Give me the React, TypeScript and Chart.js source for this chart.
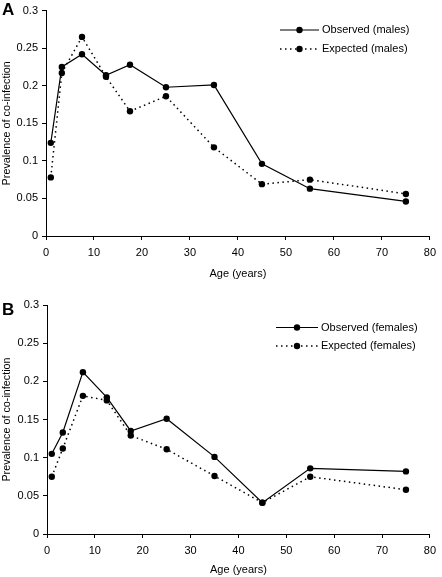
import React, { useEffect, useRef } from 'react';
import { Chart, registerables } from 'chart.js';

Chart.register(...registerables);

// Age group midpoints (years)
const ages = [1, 3.3, 7.5, 12.5, 17.5, 25, 35, 45, 55, 75];

// Panel A – males
const observedMales = [0.124, 0.225, 0.242, 0.214, 0.228, 0.198, 0.201, 0.096, 0.063, 0.046];
const expectedMales = [0.078, 0.217, 0.265, 0.212, 0.166, 0.186, 0.118, 0.069, 0.075, 0.056];

// Panel B – females
const observedFemales = [0.105, 0.133, 0.212, 0.179, 0.135, 0.151, 0.101, 0.041, 0.086, 0.082];
const expectedFemales = [0.075, 0.112, 0.181, 0.175, 0.129, 0.111, 0.076, 0.041, 0.075, 0.058];

const seriesLabelsA = ['Observed (males)', 'Expected (males)'];
const seriesLabelsB = ['Observed (females)', 'Expected (females)'];

const xMin = 0;
const xMax = 80;
const xStep = 10;
const yMin = 0;
const yMax = 0.3;
const yStep = 0.05;
const xTitle = 'Age (years)';
const yTitle = 'Prevalence of co-infection';

const FONT = '"Liberation Sans", Arial, Helvetica, sans-serif';

const lineLegend = {
  id: 'lineLegend',
  afterDraw(chart: any, _args: any, opts: any) {
    if (!opts || !opts.display) return;
    const ctx = chart.ctx as CanvasRenderingContext2D;
    chart.data.datasets.forEach((ds: any, i: number) => {
      const y = opts.y + i * opts.gap;
      ctx.save();
      ctx.strokeStyle = '#000';
      ctx.fillStyle = '#000';
      ctx.lineWidth = ds.borderWidth;
      ctx.setLineDash(ds.borderDash || []);
      ctx.beginPath();
      ctx.moveTo(opts.x, y);
      ctx.lineTo(opts.x + opts.len, y);
      ctx.stroke();
      ctx.setLineDash([]);
      ctx.beginPath();
      ctx.arc(opts.x + opts.len / 2, y, ds.pointRadius, 0, Math.PI * 2);
      ctx.fill();
      ctx.font = `11px ${FONT}`;
      ctx.textBaseline = 'middle';
      ctx.textAlign = 'left';
      ctx.fillText(ds.label, opts.x + opts.len + 3, y);
      ctx.restore();
    });
  },
};

type PanelProps = {
  width: number;
  height: number;
  observed: number[];
  expected: number[];
  labels: string[];
  area: { top: number; left: number; right: number; bottom: number };
  legend: { x: number; y: number; gap: number; len: number };
  xTitlePad: number;
};

function Panel({ width, height, observed, expected, labels, area, legend, xTitlePad }: PanelProps) {
  const ref = useRef<HTMLCanvasElement | null>(null);
  useEffect(() => {
    if (!ref.current) return;
    const chart = new Chart(ref.current, {
      type: 'line',
      data: {
        datasets: [
          {
            label: labels[0],
            data: ages.map((a, i) => ({ x: a, y: observed[i] })),
            borderColor: '#000',
            backgroundColor: '#000',
            borderWidth: 1.2,
            pointRadius: 3.2,
            pointBackgroundColor: '#000',
            pointBorderWidth: 0,
            tension: 0,
          },
          {
            label: labels[1],
            data: ages.map((a, i) => ({ x: a, y: expected[i] })),
            borderColor: '#000',
            backgroundColor: '#000',
            borderWidth: 1.5,
            borderDash: [1.5, 3.5],
            pointRadius: 3.2,
            pointBackgroundColor: '#000',
            pointBorderWidth: 0,
            tension: 0,
          },
        ],
      },
      options: {
        responsive: false,
        animation: false,
        events: [],
        layout: {
          padding: { top: area.top, left: 0, right: width - area.right, bottom: 0 },
        },
        plugins: {
          legend: { display: false },
          tooltip: { enabled: false },
          lineLegend: { display: true, ...legend },
        } as any,
        scales: {
          x: {
            type: 'linear',
            min: xMin,
            max: xMax,
            ticks: {
              stepSize: xStep,
              color: '#000',
              font: { family: FONT, size: 11 },
              padding: 6,
              maxRotation: 0,
            },
            grid: { drawOnChartArea: false, drawTicks: true, tickLength: 4, color: '#000', lineWidth: 1 },
            border: { display: true, color: '#000', width: 1 },
            title: {
              display: true,
              text: xTitle,
              color: '#000',
              font: { family: FONT, size: 11 },
              padding: { top: 0, bottom: xTitlePad },
            },
            afterFit: (s: any) => {
              s.height = height - area.bottom;
            },
          },
          y: {
            type: 'linear',
            min: yMin,
            max: yMax,
            ticks: {
              stepSize: yStep,
              color: '#000',
              font: { family: FONT, size: 11 },
              padding: 4,
              callback: (v: any) => String(Number(Number(v).toFixed(2))),
            },
            grid: { drawOnChartArea: false, drawTicks: true, tickLength: 4, color: '#000', lineWidth: 1 },
            border: { display: true, color: '#000', width: 1 },
            title: {
              display: true,
              text: yTitle,
              color: '#000',
              font: { family: FONT, size: 10.8 },
              padding: { top: 1, bottom: 0 },
            },
            afterFit: (s: any) => {
              s.width = area.left;
            },
          },
        },
      },
      plugins: [lineLegend as any],
    } as any);
    return () => chart.destroy();
  }, []);
  return <canvas ref={ref} width={width} height={height} style={{ display: 'block', width, height }} />;
}

const letterStyle: React.CSSProperties = {
  position: 'absolute',
  left: 2,
  fontFamily: FONT,
  fontWeight: 'bold',
  fontSize: 17,
  lineHeight: '17px',
  color: '#000',
};

export default function App() {
  return (
    <div style={{ position: 'absolute', left: 0, top: 0, width: 442, height: 577, background: '#fff', overflow: 'hidden' }}>
      <div style={{ position: 'absolute', left: 0, top: 0 }}>
        <Panel
          width={442}
          height={290}
          observed={observedMales}
          expected={expectedMales}
          labels={seriesLabelsA}
          area={{ top: 7, left: 46, right: 436, bottom: 236 }}
          legend={{ x: 280, y: 30, gap: 19, len: 39 }}
          xTitlePad={9.4}
        />
      </div>
      <div style={{ position: 'absolute', left: 0, top: 290 }}>
        <Panel
          width={442}
          height={287}
          observed={observedFemales}
          expected={expectedFemales}
          labels={seriesLabelsB}
          area={{ top: 15, left: 47, right: 434, bottom: 244 }}
          legend={{ x: 276, y: 37.5, gap: 18.5, len: 42 }}
          xTitlePad={0.4}
        />
      </div>
      <div style={{ ...letterStyle, top: 1 }}>A</div>
      <div style={{ ...letterStyle, top: 301 }}>B</div>
    </div>
  );
}
